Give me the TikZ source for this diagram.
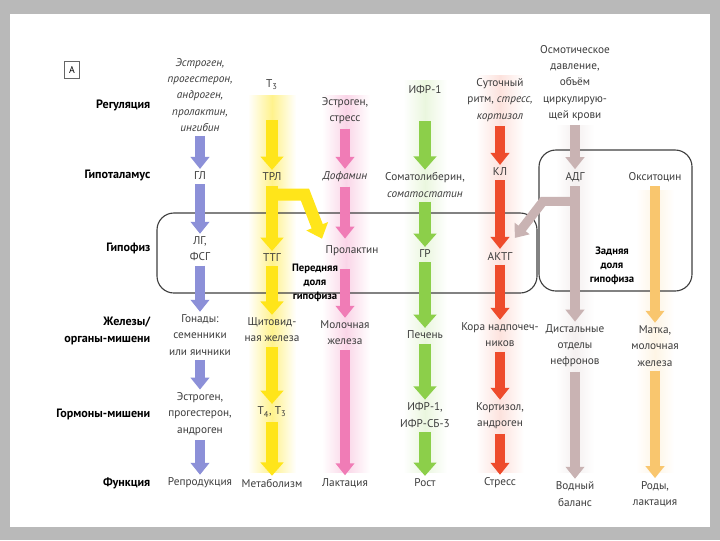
\documentclass[tikz,border=0pt]{standalone}
\usepackage{fontspec}
\setmainfont{PT Sans}
\usetikzlibrary{arrows.meta}

\definecolor{cblue}{HTML}{8C90D8}
\definecolor{cyel}{HTML}{FFE51A}
\definecolor{cpink}{HTML}{F07CB6}
\definecolor{cgreen}{HTML}{8CCF4A}
\definecolor{cred}{HTML}{EE4B2B}
\definecolor{cadh}{HTML}{C9B3B3}
\definecolor{corange}{HTML}{F9C66E}
\definecolor{ctext}{HTML}{3C3C3C}
\definecolor{marble}{HTML}{B9B9B9}

\tikzset{
  txt/.style={align=center, text=ctext, font=\fontsize{8}{11.5}\selectfont, inner sep=1pt},
  rowlbl/.style={anchor=east, align=right, inner sep=1pt, font=\fontsize{8.6}{12}\selectfont\bfseries},
  lobelbl/.style={align=center, inner sep=1pt, font=\fontsize{7.6}{10}\selectfont\bfseries},
  fat/.style={line width=6.5pt, -{Triangle[length=8.5pt,width=13pt]}, shorten <=2pt, shorten >=1pt},
  wide/.style={line width=8.5pt, -{Triangle[length=9.5pt,width=16pt]}},
  lobe/.style={draw=black!75, line width=0.8pt, rounded corners=12pt},
  glow/.style={left color=white, right color=white, middle color=#1},
}

\begin{document}
\begin{tikzpicture}[x=0.025cm, y=-0.025cm]
        \useasboundingbox (0,0) rectangle (720,540);
        % frame and page
        \fill[marble] (0,0) rectangle (720,540);
        \fill[white] (10,14) rectangle (710,527);

        % soft colour bands behind the columns
        \shade[glow=cyel!50] (248,95) rectangle (296,472);
        \shade[glow=cpink!32] (322,95) rectangle (370,472);
        \shade[glow=cgreen!18] (403,80) rectangle (447,472);
        \shade[glow=cred!16] (476,75) rectangle (524,472);
        \shade[glow=cadh!20] (556,125) rectangle (594,472);
        \shade[glow=corange!18] (636,190) rectangle (674,472);

        % pituitary lobes
        \draw[lobe] (157,213) rectangle (537,293);
        \draw[lobe] (539,150) rectangle (692,291);

        \node[draw=black!60, line width=0.5pt, minimum width=11pt, minimum height=12pt, inner sep=0pt,
              font=\fontsize{7}{8}\selectfont] (tagA) at (72,70) {А};

        % row labels
        \node[rowlbl] (rreg) at (152,105) {Регуляция};
        \node[rowlbl] (rhyp) at (152,176) {Гипоталамус};
        \node[rowlbl] (rpit) at (152,248) {Гипофиз};
        \node[rowlbl] (rgland) at (152,331) {Железы/\\органы-мишени};
        \node[rowlbl] (rhorm) at (152,414) {Гормоны-мишени};
        \node[rowlbl] (rfunc) at (152,483) {Функция};

        % column 1
        \node[txt, font=\fontsize{8}{11.5}\selectfont\itshape] (sreg) at (200,95) {Эстроген,\\прогестерон,\\андроген,\\пролактин,\\ингибин};
        \node[txt] (gl) at (200,176) {ГЛ};
        \node[txt] (lh) at (200,249) {ЛГ,\\ФСГ};
        \node[txt] (gon) at (200,335) {Гонады:\\семенники\\или яичники};
        \node[txt] (sex) at (200,414) {Эстроген,\\прогестерон,\\андроген};
        \node[txt] (repr) at (200,483) {Репродукция};

        % column 2
        \node[txt] (t3) at (272,85) {Т\textsubscript{3}};
        \node[txt] (trl) at (272,177) {ТРЛ};
        \node[txt] (ttg) at (272,258) {ТТГ};
        \node[txt] (thyr) at (272,330) {Щитовид-\\ная железа};
        \node[txt] (t43) at (272,412) {Т\textsubscript{4}, Т\textsubscript{3}};
        \node[txt] (metab) at (272,483) {Метаболизм};

        % column 3
        \node[txt] (estr) at (345,111) {Эстроген,\\стресс};
        \node[txt, font=\fontsize{8}{11.5}\selectfont\itshape] (dop) at (345,177) {Дофамин};
        \node[txt] (prl) at (352,251) {Пролактин};
        \node[txt] (mam) at (345,333) {Молочная\\железа};
        \node[txt] (lact) at (345,483) {Лактация};

        % column 4
        \node[txt] (igf) at (425,90) {ИФР-1};
        \node[txt] (ghrh) at (425,185) {Соматолиберин,\\\textit{соматостатин}};
        \node[txt] (gh) at (425,254) {ГР};
        \node[txt] (liver) at (425,335) {Печень};
        \node[txt] (igfb) at (425,415) {ИФР-1,\\ИФР-СБ-3};
        \node[txt] (grow) at (425,483) {Рост};

        % column 5
        \node[txt] (circ) at (500,100) {Суточный\\ритм, \textit{стресс,}\\\textit{кортизол}};
        \node[txt] (crh) at (500,172) {КЛ};
        \node[txt] (acth) at (500,256) {АКТГ};
        \node[txt] (adr) at (500,335) {Кора надпочеч-\\ников};
        \node[txt] (cort) at (500,416) {Кортизол,\\андроген};
        \node[txt] (stress) at (500,483) {Стресс};

        % column 6
        \node[txt] (osm) at (575,83) {Осмотическое\\давление,\\объём\\циркулирую-\\щей крови};
        \node[txt] (adh) at (575,177) {АДГ};
        \node[txt] (neph) at (575,346) {Дистальные\\отделы\\нефронов};
        \node[txt] (water) at (575,494) {Водный\\баланс};

        % column 7
        \node[txt] (oxy) at (655,177) {Окситоцин};
        \node[txt] (uter) at (655,346) {Матка,\\молочная\\железа};
        \node[txt] (birth) at (655,494) {Роды,\\лактация};

        % lobe labels
        \node[lobelbl] (antlbl) at (315,283) {Передняя\\доля\\гипофиза};
        \node[lobelbl] (postlbl) at (612,266) {Задняя\\доля\\гипофиза};

        % arrows
        \draw[fat, cblue] (sreg) -- (gl);
        \draw[fat, cblue] (gl) -- (lh);
        \draw[fat, cblue] (lh) -- (gon);
        \draw[fat, cblue] (gon) -- (sex);
        \draw[fat, cblue] (sex) -- (repr);

        \draw[fat, wide, cyel] ([yshift=-18pt]t3.south) -- (trl);
        \draw[fat, wide, cyel] (trl) -- (ttg);
        \draw[fat, wide, cyel, line join=miter] (trl.south) ++(0,12) -- ++(33,0) -- ([shift={(-1pt,3pt)}]prl.north west);
        \draw[fat, wide, cyel] (ttg) -- (thyr);
        \draw[fat, wide, cyel] (thyr) -- (t43);
        \draw[fat, wide, cyel] (t43) -- (metab);

        \draw[fat, cpink] (estr) -- (dop);
        \draw[fat, cpink] (dop) -- ([yshift=3pt]prl.north -| dop);
        \draw[fat, cpink] ([yshift=-6pt]prl.south -| dop) -- (mam);
        \draw[fat, cpink] (mam) -- (lact);

        \draw[fat, wide, cgreen] ([yshift=-16pt]igf.south) -- (ghrh);
        \draw[fat, wide, cgreen] (ghrh) -- (gh);
        \draw[fat, wide, cgreen] (gh) -- (liver);
        \draw[fat, wide, cgreen] (liver) -- (igfb);
        \draw[fat, wide, cgreen] (igfb) -- (grow);

        \draw[fat, cred] (circ) -- (crh);
        \draw[fat, cred] (crh) -- (acth);
        \draw[fat, cred] (acth) -- (adr);
        \draw[fat, cred] (adr) -- (cort);
        \draw[fat, cred] (cort) -- (stress);

        \draw[fat, cadh] (osm) -- (adh);
        \draw[fat, cadh] (adh) -- (neph);
        \draw[fat, cadh, line join=miter] (adh.south) ++(0,18) -- ++(-32,0) -- ([shift={(0pt,8pt)}]acth.north east);
        \draw[fat, cadh] (neph) -- (water);

        \draw[fat, corange] (oxy) -- (uter);
        \draw[fat, corange] (uter) -- (birth);
    \end{tikzpicture}
\end{document}
